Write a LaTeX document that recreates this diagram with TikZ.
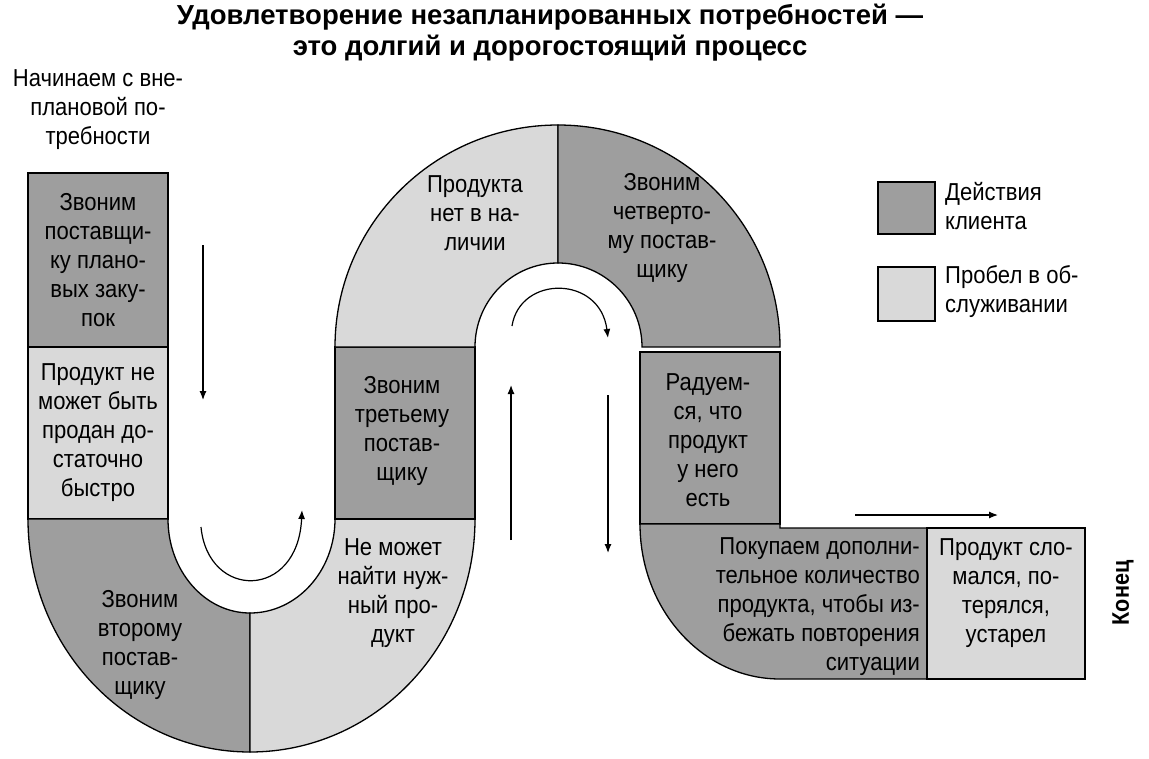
\documentclass[tikz,border=0pt]{standalone}
\usepackage{fontspec}
\setmainfont[FakeStretch=0.9]{Liberation Sans}
\newfontfamily\titlefont[FakeStretch=1.0]{Liberation Sans}
\usetikzlibrary{arrows.meta}
\definecolor{dk}{gray}{0.62}
\definecolor{lt}{gray}{0.85}
\tikzset{
 seg/.style={draw=black,line width=1.3pt},
 dseg/.style={seg,fill=dk},
 lseg/.style={seg,fill=lt},
 lbl/.style={align=center,font=\fontsize{24.5}{29}\selectfont,inner sep=0pt},
 flow/.style={line width=1.2pt,-{Latex[length=9pt,width=7pt]}},
}
\begin{document}
\begin{tikzpicture}[x=1pt,y=1pt]
\useasboundingbox (0,0) rectangle (1149,-758);
% left column
\draw[dseg] (28,-173) rectangle (168,-347);
\draw[lseg] (28,-347) rectangle (168,-519);
% lower U
\draw[dseg] (28,-519) arc[start angle=180,end angle=270,x radius=222,y radius=233] -- (250,-613) arc[start angle=270,end angle=180,x radius=82,y radius=94] -- cycle;
\draw[lseg] (250,-752) arc[start angle=270,end angle=360,x radius=225,y radius=233] -- (335,-519) arc[start angle=0,end angle=-90,x radius=85,y radius=94] -- cycle;
% middle column
\draw[dseg] (335,-347) rectangle (475,-519);
% upper arch
\draw[lseg] (335,-347) arc[start angle=180,end angle=90,x radius=223,y radius=222] -- (558,-263) arc[start angle=90,end angle=180,x radius=83,y radius=84] -- cycle;
\draw[dseg] (558,-125) arc[start angle=90,end angle=0,x radius=222,y radius=222] -- (642,-347) arc[start angle=0,end angle=90,x radius=84,y radius=84] -- cycle;
% right column
\draw[dseg] (640,-352) rectangle (780,-524);
\draw[dseg] (640,-524) arc[start angle=180,end angle=270,x radius=140,y radius=155] -- (927,-679) -- (927,-528) -- (780,-528) -- (780,-524) -- cycle;
\draw[lseg] (927,-528) rectangle (1085,-679);
% legend
\draw[dseg] (878,-182) rectangle (935,-234);
\draw[lseg] (878,-267) rectangle (935,-321);
\node[lbl,align=left,anchor=west] (lg1) at (945,-206) {Действия\\клиента};
\node[lbl,align=left,anchor=west] (lg2) at (945,-292) {Пробел в об-\\служивании};
% title and texts
\node[align=center,font=\titlefont\bfseries\fontsize{27.5}{31}\selectfont,inner sep=0pt] (title) at (550,-33) {Удовлетворение незапланированных потребностей —\\это долгий и дорогостоящий процесс};
\node[lbl] (start) at (98,-110) {Начинаем с вне-\\плановой по-\\требности};
\node[lbl] (t1) at (98,-260) {Звоним\\поставщи-\\ку плано-\\вых заку-\\пок};
\node[lbl] (t2) at (98,-433) {Продукт не\\может быть\\продан до-\\статочно\\быстро};
\node[lbl] (t3) at (140,-645) {Звоним\\второму\\постав-\\щику};
\node[lbl] (t4) at (393,-593) {Не может\\найти нуж-\\ный про-\\дукт};
\node[lbl] (t5) at (402,-431) {Звоним\\третьему\\постав-\\щику};
\node[lbl] (t6) at (475,-213) {Продукта\\нет в на-\\личии};
\node[lbl] (t7) at (662,-228) {Звоним\\четверто-\\му постав-\\щику};
\node[lbl] (t8) at (708,-440) {Радуем-\\ся, что\\продукт\\у него\\есть};
\node[lbl,align=right,anchor=north east] (t9) at (920,-537) {Покупаем дополни-\\тельное количество\\продукта, чтобы из-\\бежать повторения\\ситуации};
\node[lbl] (t10) at (1006,-593) {Продукт сло-\\мался, по-\\терялся,\\устарел};
\node[lbl,rotate=90,font=\bfseries\fontsize{24}{29}\selectfont] (end) at (1123,-593) {Конец};
% arrows
\coordinate (a1) at (203,-245); \coordinate (a2) at (203,-400);
\draw[flow] (a1) -- (a2);
\coordinate (b1) at (201,-527); \coordinate (b2) at (302,-510);
\draw[flow] (b1) .. controls (208,-600) and (298,-600) .. (b2);
\coordinate (c1) at (511,-540); \coordinate (c2) at (511,-385);
\draw[flow] (c1) -- (c2);
\coordinate (d1) at (512,-326); \coordinate (d2) at (608,-338);
\draw[flow] (d1) .. controls (520,-275) and (600,-275) .. (d2);
\coordinate (e1) at (608,-395); \coordinate (e2) at (608,-553);
\draw[flow] (e1) -- (e2);
\coordinate (f1) at (855,-515); \coordinate (f2) at (998,-515);
\draw[flow] (f1) -- (f2);
\end{tikzpicture}
\end{document}
